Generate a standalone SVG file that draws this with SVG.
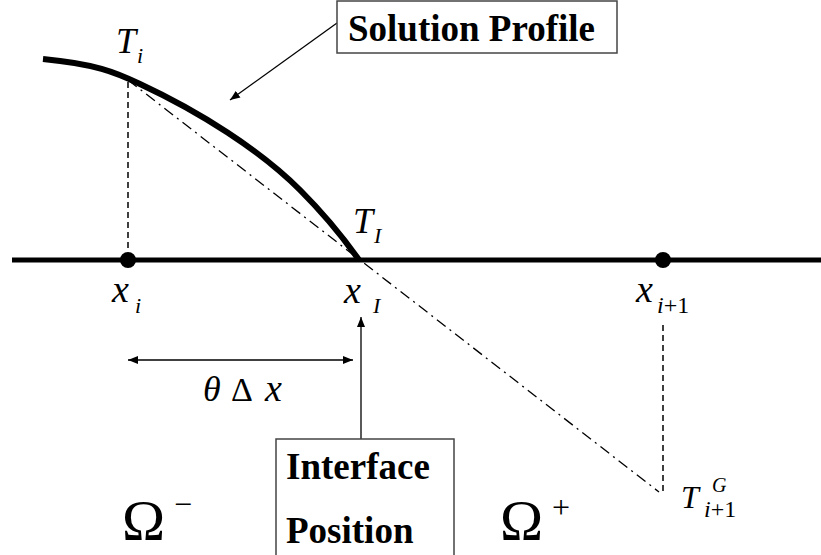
<svg xmlns="http://www.w3.org/2000/svg" width="821" height="555" viewBox="0 0 821 555" font-family="'Liberation Serif', 'DejaVu Serif', serif">
<defs>
<style>
text{font-family:'Liberation Serif','DejaVu Serif',serif}
.m{font-style:italic;fill:#000}
.u{fill:#000}
.b{font-weight:bold;font-size:37px;fill:#000}
.thin{stroke:#000;stroke-width:1.3;fill:none}
.dash{stroke:#000;stroke-width:1.5;stroke-dasharray:6 4;fill:none}
.dd{stroke:#000;stroke-width:1.3;stroke-dasharray:11 5 2 5;fill:none}
.box{fill:#fff;stroke:#444;stroke-width:1.5}
</style>
<marker id="ah" viewBox="0 0 10 10" refX="10" refY="5" markerWidth="10" markerHeight="10" markerUnits="userSpaceOnUse" orient="auto-start-reverse">
<path d="M0,1 L10,5 L0,9 Z" fill="#000"/>
</marker>
</defs>
<rect width="821" height="555" fill="#fff"/>

<g id="axis">
<line x1="12" y1="260" x2="821" y2="260" stroke="#000" stroke-width="5"/>
</g>

<g id="profile">
<path d="M43,59 C95,64 115,72 140,84 C200,112 260,150 300,190 C325,215 345,240 359,260" fill="none" stroke="#000" stroke-width="6"/>
</g>

<g id="connectors">
<line class="dd" x1="128" y1="80" x2="659" y2="492"/>
<line class="dash" x1="128" y1="82" x2="128" y2="252"/>
<line class="dash" x1="663" y1="325" x2="663" y2="492"/>
<line class="thin" x1="337" y1="23" x2="230" y2="100" marker-end="url(#ah)"/>
<line class="thin" x1="128" y1="360" x2="353" y2="360" marker-start="url(#ah)" marker-end="url(#ah)"/>
<line class="thin" x1="361" y1="439" x2="361" y2="317" marker-end="url(#ah)"/>
</g>

<g id="node-xi">
<circle cx="128" cy="260" r="8" fill="#000"/>
<text class="m" x="112" y="302" font-size="38">x</text>
<text class="m" x="135" y="313" font-size="22">i</text>
</g>

<g id="node-xi1">
<circle cx="663" cy="260" r="8" fill="#000"/>
<text class="m" x="636" y="302" font-size="38">x</text>
<text x="657" y="313" font-size="24"><tspan class="m">i</tspan><tspan class="u">+1</tspan></text>
</g>

<g id="node-xI">
<text class="m" x="344" y="303" font-size="38">x</text>
<text class="m" x="373" y="313" font-size="22">I</text>
</g>

<g id="label-Ti">
<text class="m" x="116" y="53" font-size="36">T</text>
<text class="m" x="137" y="63" font-size="22">i</text>
</g>

<g id="label-TI">
<text class="m" x="353" y="233" font-size="36">T</text>
<text class="m" x="374" y="243" font-size="22">I</text>
</g>

<g id="label-TG">
<text class="m" x="681" y="508" font-size="32">T</text>
<text class="m" x="712" y="492" font-size="20">G</text>
<text x="704" y="517" font-size="24"><tspan class="m">i</tspan><tspan class="u">+1</tspan></text>
</g>

<g id="label-dx">
<text class="m" x="203" y="401" font-size="36">θ</text>
<text class="u" x="231" y="401" font-size="34">Δ</text>
<text class="m" x="265" y="401" font-size="38">x</text>
</g>

<g id="solution-profile">
<rect class="box" x="337" y="1" width="280" height="52"/>
<text class="b" x="348" y="41">Solution Profile</text>
</g>

<g id="interface-position">
<rect class="box" x="276" y="439" width="178" height="130"/>
<text class="b" x="286" y="479">Interface</text>
<text class="b" x="286" y="543">Position</text>
</g>

<g id="omega-minus">
<text class="u" x="122" y="540" font-size="58">Ω</text>
<text class="u" x="174" y="515" font-size="32">−</text>
</g>

<g id="omega-plus">
<text class="u" x="500" y="540" font-size="58">Ω</text>
<text class="u" x="552" y="518" font-size="32">+</text>
</g>
</svg>
